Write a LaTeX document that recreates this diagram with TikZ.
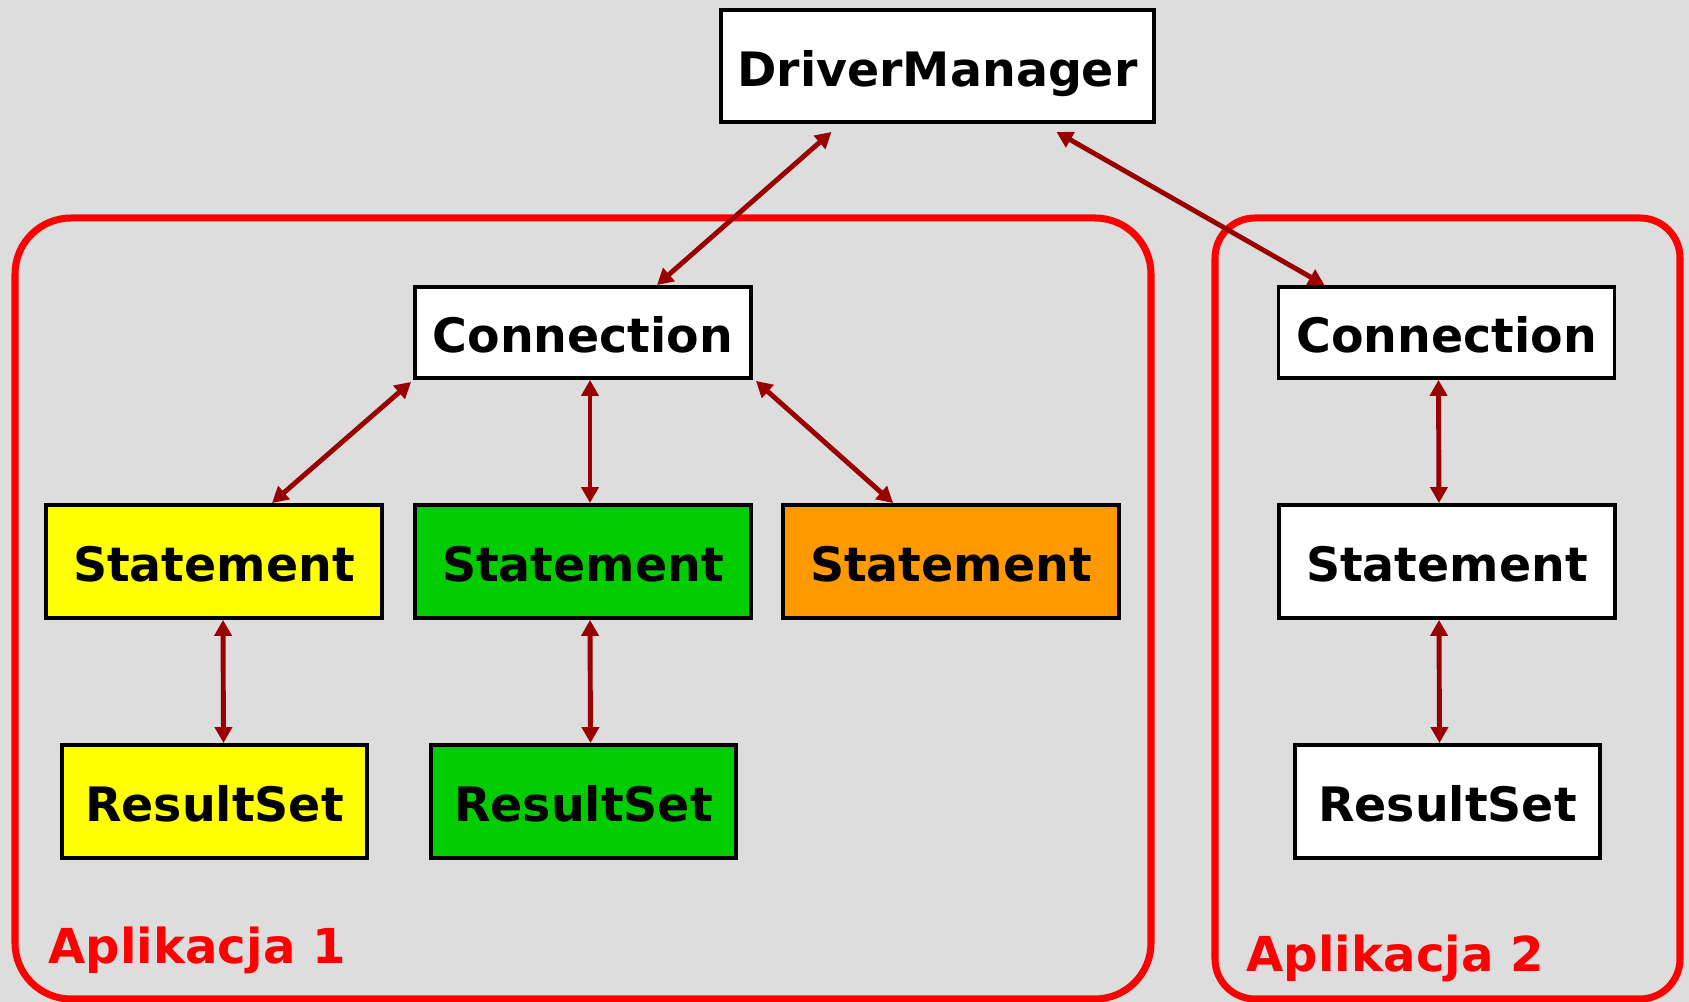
\documentclass[tikz,border=0pt]{standalone}
\usepackage{fontspec}
\setmainfont{DejaVu Sans}
\usetikzlibrary{arrows.meta, calc}
\definecolor{panelgray}{RGB}{221,221,221}
\definecolor{linkred}{RGB}{153,0,0}
\definecolor{appred}{RGB}{255,0,0}
\definecolor{stmtyellow}{RGB}{255,255,0}
\definecolor{stmtgreen}{RGB}{0,204,0}
\definecolor{stmtorange}{RGB}{255,153,0}

\begin{document}
\begin{tikzpicture}[x=0.1mm, y=-0.1mm,
  jdbcbox/.style={draw=black, line width=1.1pt, fill=white, inner sep=0pt,
    text height=11.5pt, text depth=0pt,
    font=\fontsize{13.5}{16}\selectfont\bfseries, minimum width=33.6mm, minimum height=9.1mm},
  stmtbox/.style={jdbcbox, minimum height=11.3mm},
  rsbox/.style={jdbcbox, minimum width=30.5mm, minimum height=11.3mm},
  link/.style={linkred, line width=1.4pt,
    {Triangle[length=1.6mm,width=1.7mm]}-{Triangle[length=1.6mm,width=1.7mm]}},
  appframe/.style={appred, line width=2pt},
  applabel/.style={appred, anchor=base west, inner sep=0pt, font=\fontsize{13.7}{16}\selectfont\bfseries}]
  \useasboundingbox (0,0) rectangle (1689,1002);
  \fill[panelgray] (0,0) rectangle (1689,1002);

  % the two applications
  \draw[appframe, rounded corners=5.6mm] (15,218) rectangle (1151,999);
  \draw[appframe, rounded corners=4mm] (1215,218) rectangle (1680,999);
  \node[applabel] (app1) at (48,964) {Aplikacja 1};
  \node[applabel] (app2) at (1246,972) {Aplikacja 2};

  % objects
  \node[jdbcbox, minimum width=43.3mm, minimum height=11.2mm] (dm) at (937.5,66) {DriverManager};
  \node[jdbcbox] (conn1) at (583,332.5) {Connection};
  \node[jdbcbox] (conn2) at (1446.5,332.5) {Connection};
  \node[stmtbox, fill=stmtyellow] (st1) at (214,561.5) {Statement};
  \node[stmtbox, fill=stmtgreen] (st2) at (583,561.5) {Statement};
  \node[stmtbox, fill=stmtorange] (st3) at (951,561.5) {Statement};
  \node[stmtbox] (st4) at (1447,561.5) {Statement};
  \node[rsbox, fill=stmtyellow] (rs1) at (214.5,801.5) {ResultSet};
  \node[rsbox, fill=stmtgreen] (rs2) at (583.5,801.5) {ResultSet};
  \node[rsbox] (rs3) at (1447.5,801.5) {ResultSet};

  % links
  \draw[link] ($(conn1.north)+(74,0)$) -- ($(dm.south)+(-106,8)$);
  \draw[link] ($(dm.south)+(119,8)$) -- ($(conn2.north)+(-122,0)$);
  \draw[link] ($(conn1.south west)+(-2,2)$) -- ($(st1.north)+(58,0)$);
  \draw[link] ($(conn1.south)+(7,0)$) -- ($(st2.north)+(7,0)$);
  \draw[link] ($(conn1.south east)+(3,1)$) -- ($(st3.north)+(-58,0)$);
  \draw[link] ($(conn2.south)+(-8,0)$) -- ($(st4.north)+(-8,0)$);
  \draw[link] ($(st1.south)+(9,0)$) -- ($(rs1.north)+(9,0)$);
  \draw[link] ($(st2.south)+(7,0)$) -- ($(rs2.north)+(7,0)$);
  \draw[link] ($(st4.south)+(-8,0)$) -- ($(rs3.north)+(-8,0)$);
\end{tikzpicture}
\end{document}
